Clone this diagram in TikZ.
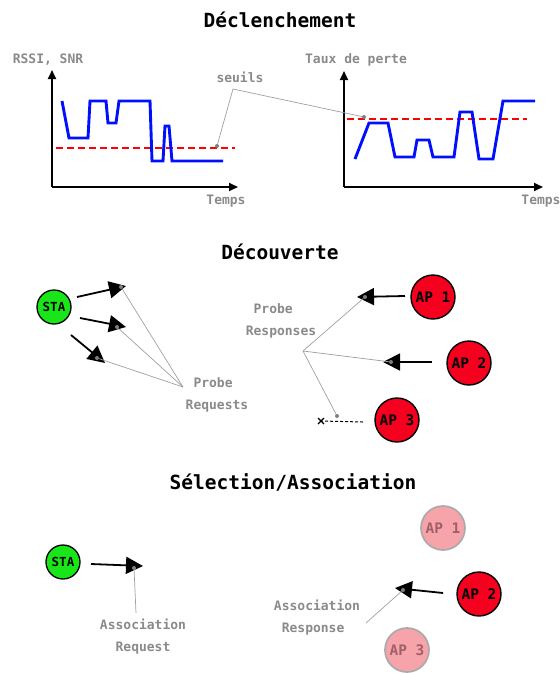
\documentclass[tikz,border=0pt]{standalone}
\usepackage{fontspec}
\setmainfont{DejaVu Sans Mono}
\usetikzlibrary{arrows.meta,calc}
\definecolor{lblgray}{HTML}{8A8A8A}
\definecolor{leadgray}{HTML}{A0A0A0}
\definecolor{sigblue}{HTML}{0010FF}
\definecolor{apred}{HTML}{F5001E}
\definecolor{stagreen}{HTML}{19E619}
\definecolor{fadefill}{HTML}{F7A3AA}
\definecolor{fadedraw}{HTML}{AAAAAA}
\definecolor{fadetext}{HTML}{A0606A}
\begin{document}
\begin{tikzpicture}[x=1pt,y=-1pt,
 title/.style={font=\fontsize{19.5}{20}\selectfont\bfseries},
 lbl/.style={font=\fontsize{13}{22}\selectfont\bfseries, text=lblgray, align=center},
 axis/.style={line width=1.8pt, -{Triangle[length=9pt,width=8pt]}},
 sig/.style={sigblue, line width=2.9pt, line join=miter},
 thr/.style={red, line width=1.4pt, dash pattern=on 7pt off 4pt},
 lead/.style={leadgray, line width=0.7pt},
 dotg/.style={circle, fill=gray, inner sep=0pt, minimum size=4pt},
 msg/.style={line width=1.8pt, -{Triangle[length=17pt,width=17pt]}},
 sta/.style={circle, draw, line width=1.3pt, fill=stagreen, minimum size=34pt, inner sep=0pt, font=\fontsize{12.5}{12}\selectfont\bfseries},
 ap/.style={circle, draw, line width=1.4pt, fill=apred, minimum size=44pt, inner sep=0pt, font=\fontsize{14.5}{14}\selectfont\bfseries},
 apfade/.style={ap, draw=fadedraw, fill=fadefill, text=fadetext, line width=1.7pt}]
\useasboundingbox (0,0) rectangle (560,673);

% ---------- Declenchement ----------
\node[title] (t1) at (280,20) {Déclenchement};

\coordinate (o1) at (52,187);
\coordinate (y1) at (52,70);
\coordinate (x1) at (238,187);
\draw[axis] (o1) -- (y1);
\draw[axis] (o1) -- (x1);
\node[lbl] (ly1) at (48,60) {RSSI, SNR};
\node[lbl] (lx1) at (226,201) {Temps};
\draw[thr] (56,148) -- (235,148);
\draw[sig] (62,101) -- (69,138) -- (88,138) -- (90,101) -- (106,101) -- (108,123) -- (116,123) -- (119,101) -- (150,101) -- (152,161) -- (163,161) -- (165,126) -- (169,126) -- (172,161) -- (223,161);

\coordinate (o2) at (344,187);
\coordinate (y2) at (344,71);
\coordinate (x2) at (543,187);
\draw[axis] (o2) -- (y2);
\draw[axis] (o2) -- (x2);
\node[lbl] (ly2) at (356,60) {Taux de perte};
\node[lbl] (lx2) at (541,201) {Temps};
\draw[thr] (347,119) -- (527,119);
\draw[sig] (355,159) -- (369,123) -- (388,123) -- (395,157) -- (414,157) -- (417,140) -- (429,140) -- (433,157) -- (454,157) -- (460,112) -- (472,112) -- (479,159) -- (493,159) -- (503,101) -- (535,101);

\node[lbl] (seuils) at (240,77) {seuils};
\coordinate (sj) at (233,89);
\node[dotg] (sd1) at (217,146) {};
\node[dotg] (sd2) at (364,117) {};
\draw[lead] (sd1) -- (sj) -- (sd2);

% ---------- Decouverte ----------
\node[title] (t2) at (280,252) {Découverte};

\node[sta] (sta1) at (54,307) {STA};
\coordinate (rq1s) at (77,297);  \coordinate (rq1e) at (126,286);
\coordinate (rq2s) at (80,318);  \coordinate (rq2e) at (126,327);
\coordinate (rq3s) at (71,335);  \coordinate (rq3e) at (105,363);
\draw[msg] (rq1s) -- (rq1e);
\draw[msg] (rq2s) -- (rq2e);
\draw[msg] (rq3s) -- (rq3e);
\node[dotg] (rd1) at (121,287) {};
\node[dotg] (rd2) at (117,327) {};
\node[dotg] (rd3) at (97,358) {};
\coordinate (rqhub) at (183,387);
\draw[lead] (rd1) -- (rqhub);
\draw[lead] (rd2) -- (rqhub);
\draw[lead] (rd3) -- (rqhub);
\node[lbl] (preq) at (217,395) {Probe\hphantom{x}\\Requests};

\node[ap] (ap1) at (433,297) {AP 1};
\node[ap] (ap2) at (469,363) {AP 2};
\node[ap] (ap3) at (397,420) {AP 3};
\coordinate (rs1s) at (405,296);
\coordinate (rs1e) at (357,297);
\coordinate (rs2s) at (432,362);
\coordinate (rs2e) at (383,362);
\coordinate (rs3s) at (363,422);
\coordinate (rs3e) at (321,421);
\draw[msg] (rs1s) -- (rs1e);
\draw[msg] (rs2s) -- (rs2e);
\draw[line width=1pt, dash pattern=on 3pt off 2pt] (rs3s) -- (rs3e);
\draw[line width=1.3pt] ($(rs3e)+(-3,-3)$) -- ($(rs3e)+(3,3)$) ($(rs3e)+(-3,3)$) -- ($(rs3e)+(3,-3)$);
\node[dotg] (sd3) at (365,297) {};
\node[dotg] (sd4) at (391,362) {};
\node[dotg] (sd5) at (337,416) {};
\coordinate (rshub) at (303,351);
\draw[lead] (sd3) -- (rshub);
\draw[lead] (sd4) -- (rshub);
\draw[lead] (sd5) -- (rshub);
\node[lbl] (presp) at (281,321) {Probe\hphantom{xx}\\Responses};

% ---------- Selection/Association ----------
\node[title] (t3) at (293,482) {Sélection/Association};

\node[sta] (sta2) at (63,562) {STA};
\coordinate (aqs) at (91,564);
\coordinate (aqe) at (143,566);
\draw[msg] (aqs) -- (aqe);
\node[dotg] (ad1) at (134,568) {};
\coordinate (aqf) at (136,613);
\draw[lead] (ad1) -- (aqf);
\node[lbl] (areq) at (143,637) {Association\\Request};

\node[apfade] (bp1) at (443,528) {AP 1};
\node[ap] (bp2) at (479,594) {AP 2};
\node[apfade] (bp3) at (407,650) {AP 3};
\coordinate (ars) at (443,593);
\coordinate (are) at (395,588);
\draw[msg] (ars) -- (are);
\node[dotg] (ad2) at (403,590) {};
\coordinate (arf) at (366,623);
\draw[lead] (ad2) -- (arf);
\node[lbl] (aresp) at (317,618) {Association\\Response\hphantom{x}};
\end{tikzpicture}
\end{document}
